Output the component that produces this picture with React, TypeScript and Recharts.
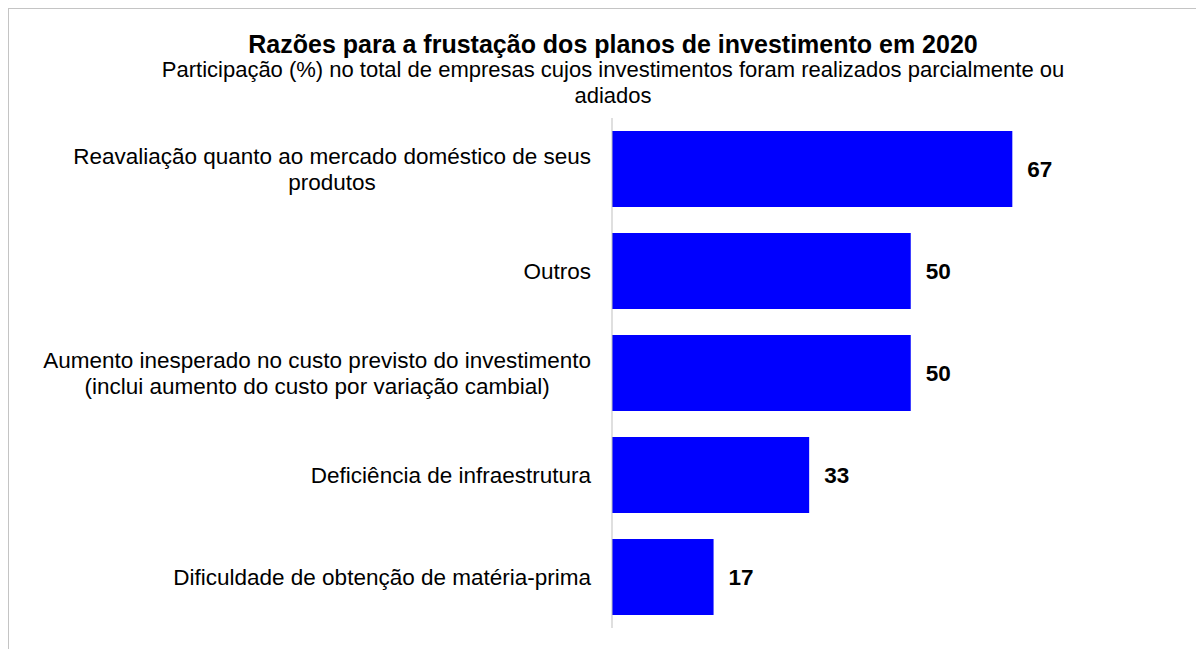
import React from 'react'
import { BarChart, Bar, XAxis, YAxis, LabelList } from 'recharts'

const categories = [
  'Reavaliação quanto ao mercado doméstico de seus\nprodutos',
  'Outros',
  'Aumento inesperado no custo previsto do investimento\n(inclui aumento do custo por variação cambial)',
  'Deficiência de infraestrutura',
  'Dificuldade de obtenção de matéria-prima',
]
const values = [67, 50, 50, 33, 17]

const data = categories.map((name, i) => ({ name, value: values[i] }))

const FONT = '"Liberation Sans", Arial, sans-serif'
const TICK_FONT_SIZE = 22.5

let ctx: CanvasRenderingContext2D | null = null
const measure = (s: string) => {
  if (!ctx) ctx = document.createElement('canvas').getContext('2d')
  if (!ctx) return s.length * 11
  ctx.font = `${TICK_FONT_SIZE}px ${FONT}`
  return ctx.measureText(s).width
}

// multi-line labels are centred as a block, the block's right edge sits next to the axis
const CategoryTick = (props: any) => {
  const { x, y, payload } = props
  const lines: string[] = String(payload.value).split('\n')
  const w = Math.max(...lines.map(measure))
  const right = x - 21
  const cx = right - w / 2
  const lh = 26
  const y0 = y - ((lines.length - 1) * lh) / 2
  return (
    <text textAnchor="middle" fontSize={TICK_FONT_SIZE} fontFamily={FONT} fill="#000">
      {lines.map((l, i) => (
        <tspan key={i} x={cx} y={y0 + i * lh} dy="0.36em">{l}</tspan>
      ))}
    </text>
  )
}

export default function App() {
  return (
    <div style={{ position: 'relative', boxSizing: 'border-box', width: 1220, height: 660, marginLeft: -1, marginTop: -1, borderTop: '2px solid #c4c4c4', borderLeft: '2px solid #c4c4c4', fontFamily: FONT }}>
      <div style={{ position: 'absolute', top: 21, left: 0, width: 1208, textAlign: 'center', fontSize: 25, lineHeight: '28px', fontWeight: 'bold', color: '#000' }}>
        Razões para a frustação dos planos de investimento em 2020
      </div>
      <div style={{ position: 'absolute', top: 48, left: 0, width: 1208, textAlign: 'center', fontSize: 22, lineHeight: '26px', color: '#000' }}>
        Participação (%) no total de empresas cujos investimentos foram realizados parcialmente ou
        <br />
        adiados
      </div>
      <div style={{ position: 'absolute', top: -1, left: -1 }}>
        <BarChart
          width={1208}
          height={650}
          data={data}
          layout="vertical"
          margin={{ top: 110, right: 126, bottom: 30, left: 0 }}
        >
          <XAxis type="number" domain={[0, 80]} hide />
          <YAxis
            type="category"
            dataKey="name"
            width={604}
            axisLine={{ stroke: '#bfbfbf' }}
            tickLine={false}
            tickSize={0}
            tickMargin={0}
            tick={<CategoryTick />}
            interval={0}
          />
          <Bar dataKey="value" fill="#0000ff" barSize={76} isAnimationActive={false}>
            <LabelList
              dataKey="value"
              position="right"
              offset={15}
              fill="#000"
              fontSize={22.5}
              fontWeight="bold"
              fontFamily={FONT}
            />
          </Bar>
        </BarChart>
      </div>
    </div>
  )
}
